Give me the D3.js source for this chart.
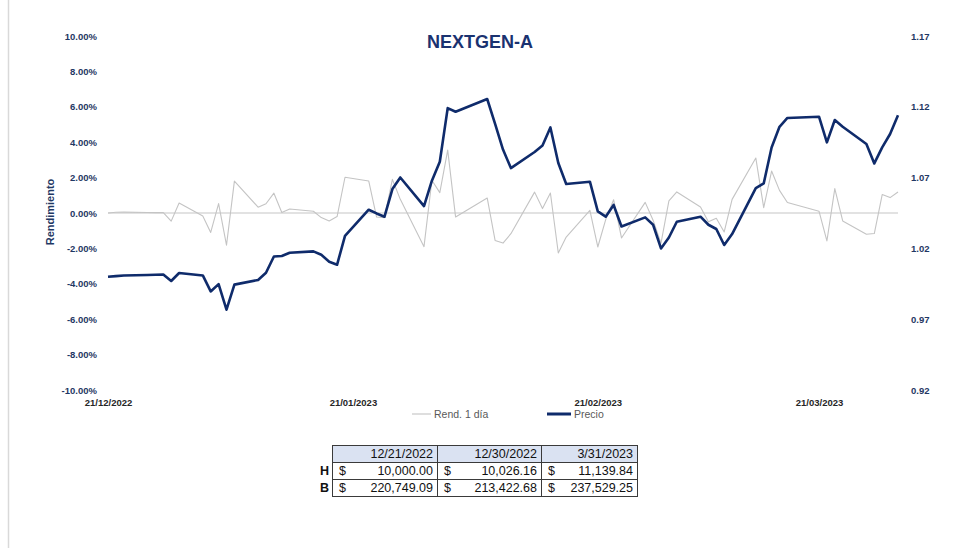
<!DOCTYPE html>
<html>
<head>
<meta charset="utf-8">
<script src="https://cdn.jsdelivr.net/npm/d3@7"></script>
<style>
  html, body { margin: 0; padding: 0; background: #fff; }
  svg { display: block; }
</style>
</head>
<body>
<svg id="chart" width="966" height="548"></svg>
<script>
const title = "NEXTGEN-A";
const dates = [
  "2022-12-21","2022-12-22","2022-12-23","2022-12-26","2022-12-27","2022-12-28","2022-12-29","2022-12-30",
  "2023-01-02","2023-01-03","2023-01-04","2023-01-05","2023-01-06","2023-01-09","2023-01-10","2023-01-11",
  "2023-01-12","2023-01-13","2023-01-16","2023-01-17","2023-01-18","2023-01-19","2023-01-20","2023-01-23",
  "2023-01-24","2023-01-25","2023-01-26","2023-01-27","2023-01-30","2023-01-31","2023-02-01","2023-02-02",
  "2023-02-03","2023-02-07","2023-02-08","2023-02-09","2023-02-10","2023-02-13","2023-02-14","2023-02-15",
  "2023-02-16","2023-02-17","2023-02-20","2023-02-21","2023-02-22","2023-02-23","2023-02-24","2023-02-27",
  "2023-02-28","2023-03-01","2023-03-02","2023-03-03","2023-03-06","2023-03-07","2023-03-08","2023-03-09",
  "2023-03-10","2023-03-13","2023-03-14","2023-03-15","2023-03-16","2023-03-17","2023-03-21","2023-03-22",
  "2023-03-23","2023-03-24","2023-03-27","2023-03-28","2023-03-29","2023-03-30","2023-03-31"
];
// Rend. 1 día (percent)
const rend = [
  0.00, 0.04, 0.05, 0.03, 0.02, 0.02, -0.46, 0.56,
  -0.17, -1.10, 0.53, -1.82, 1.80, 0.33, 0.52, 1.12,
  0.03, 0.23, 0.10, -0.26, -0.45, -0.20, 2.02, 1.81,
  -0.23, -0.26, 1.90, 0.77, -1.90, 1.85, 1.15, 3.55,
  -0.23, 0.85, -1.55, -1.70, -1.17, 1.18, 0.25, 1.13,
  -2.26, -1.36, 0.15, -1.92, -0.37, 0.75, -1.41, 0.60,
  -0.41, -1.70, 0.68, 1.19, 0.34, -0.50, -0.30, -1.07,
  0.77, 3.11, 0.30, 2.37, 1.28, 0.59, 0.10, -1.58,
  1.38, -0.45, -1.20, -1.16, 1.04, 0.87, 1.19
];
// Precio
const precio = [
  1.0000, 1.0004, 1.0009, 1.0012, 1.0014, 1.0016, 0.9970, 1.0026,
  1.0009, 0.9896, 0.9948, 0.9767, 0.9944, 0.9977, 1.0028, 1.0143,
  1.0146, 1.0169, 1.0179, 1.0155, 1.0106, 1.0085, 1.0289, 1.0473,
  1.0447, 1.0424, 1.0619, 1.0701, 1.0499, 1.0678, 1.0812, 1.1191,
  1.1165, 1.1255, 1.1079, 1.0898, 1.0767, 1.0881, 1.0927, 1.1054,
  1.0803, 1.0655, 1.0671, 1.0462, 1.0424, 1.0507, 1.0355, 1.0419,
  1.0367, 1.0200, 1.0277, 1.0388, 1.0424, 1.0367, 1.0337, 1.0224,
  1.0301, 1.0626, 1.0659, 1.0913, 1.1059, 1.1121, 1.1130, 1.0949,
  1.1107, 1.1059, 1.0937, 1.0800, 1.0913, 1.1008, 1.1140
];
const leftTicks = [-10, -8, -6, -4, -2, 0, 2, 4, 6, 8, 10];
const rightTicks = [0.92, 0.97, 1.02, 1.07, 1.12, 1.17];
const xTickDates = ["2022-12-21", "2023-01-21", "2023-02-21", "2023-03-21"];
const seriesNames = ["Rend. 1 día", "Precio"];
const tableDates = ["12/21/2022", "12/30/2022", "3/31/2023"];
const rowLabels = ["H", "B"];
const rowH = [10000.00, 10026.16, 11139.84];
const rowB = [220749.09, 213422.68, 237529.25];

const parse = d3.timeParse("%Y-%m-%d");
const navy = "#0f2b6b";
const axisColor = "#1f3864";
const svg = d3.select("#chart");

// left page border line
svg.append("line").attr("x1", 8.5).attr("x2", 8.5).attr("y1", 0).attr("y2", 548)
  .attr("stroke", "#d9d9d9").attr("stroke-width", 1.5);

const x = d3.scaleTime().domain([parse("2022-12-21"), parse("2023-03-31")]).range([108, 898]);
const yL = d3.scaleLinear().domain([-10, 10]).range([390, 36]);
const yR = d3.scaleLinear().domain([0.92, 1.17]).range([390, 36]);

// title
svg.append("text").attr("x", 480).attr("y", 48).attr("text-anchor", "middle")
  .attr("font-family", "Liberation Sans, Arial, sans-serif").attr("font-weight", "bold")
  .attr("font-size", 18).attr("fill", "#1a3270").text(title);

// left axis
const gL = svg.append("g").attr("transform", "translate(97,0)")
  .call(d3.axisLeft(yL).tickValues(leftTicks).tickSize(0).tickPadding(0)
    .tickFormat(d => d3.format(".2f")(d).replace("−", "-") + "%"));
gL.select(".domain").remove();
gL.selectAll("text").attr("font-family", "Liberation Sans, Arial, sans-serif")
  .attr("font-weight", "bold").attr("font-size", 9.5).attr("fill", axisColor);

// right axis
const gR = svg.append("g").attr("transform", "translate(911,0)")
  .call(d3.axisRight(yR).tickValues(rightTicks).tickSize(0).tickPadding(0)
    .tickFormat(d3.format(".2f")));
gR.select(".domain").remove();
gR.selectAll("text").attr("font-family", "Liberation Sans, Arial, sans-serif")
  .attr("font-weight", "bold").attr("font-size", 9.5).attr("fill", axisColor);

// y title
svg.append("text").attr("transform", "translate(54,212) rotate(-90)").attr("text-anchor", "middle")
  .attr("font-family", "Liberation Sans, Arial, sans-serif").attr("font-weight", "bold")
  .attr("font-size", 11).attr("fill", axisColor).text("Rendimiento");

// x axis labels
const gX = svg.append("g").attr("transform", "translate(0,399)")
  .call(d3.axisBottom(x).tickValues(xTickDates.map(parse)).tickSize(0).tickPadding(0)
    .tickFormat(d3.timeFormat("%d/%m/%Y")));
gX.select(".domain").remove();
gX.selectAll("text").attr("font-family", "Liberation Sans Narrow, Arial Narrow, sans-serif")
  .attr("font-weight", "bold").attr("font-size", 9.5).attr("fill", "#262626");

// zero line
svg.append("line").attr("x1", x.range()[0]).attr("x2", x.range()[1])
  .attr("y1", yL(0)).attr("y2", yL(0)).attr("stroke", "#d9d9d9").attr("stroke-width", 1.5);

const data = dates.map((d, i) => ({ date: parse(d), r: rend[i], p: precio[i] }));

svg.append("path").datum(data)
  .attr("d", d3.line().x(d => x(d.date)).y(d => yL(d.r)))
  .attr("fill", "none").attr("stroke", "#c4c4c4").attr("stroke-width", 1.1)
  .attr("stroke-linejoin", "round");

svg.append("path").datum(data)
  .attr("d", d3.line().x(d => x(d.date)).y(d => yR(d.p)))
  .attr("fill", "none").attr("stroke", navy).attr("stroke-width", 2.6)
  .attr("stroke-linejoin", "round");

// legend
const leg = svg.append("g").attr("font-family", "Liberation Sans Narrow, Arial Narrow, sans-serif")
  .attr("font-size", 10.5).attr("fill", "#595959");
leg.append("line").attr("x1", 412).attr("x2", 431).attr("y1", 414).attr("y2", 414)
  .attr("stroke", "#c4c4c4").attr("stroke-width", 1.1);
leg.append("text").attr("x", 434).attr("y", 418).text(seriesNames[0]);
leg.append("line").attr("x1", 547).attr("x2", 571).attr("y1", 414).attr("y2", 414)
  .attr("stroke", navy).attr("stroke-width", 3);
leg.append("text").attr("x", 574).attr("y", 418).text(seriesNames[1]);

// table
const colX = [332, 437, 541, 637];
const rowY = [445, 462, 479, 496];
const tbl = svg.append("g").attr("font-family", "Liberation Sans, Arial, sans-serif").attr("font-size", 12.5);
tbl.append("rect").attr("x", colX[0]).attr("y", rowY[0]).attr("width", colX[3] - colX[0])
  .attr("height", rowY[1] - rowY[0]).attr("fill", "#dae2f2");
const money = d3.format(",.2f");
tableDates.forEach((t, i) => {
  tbl.append("text").attr("x", colX[i + 1] - 4).attr("y", rowY[0] + 13).attr("text-anchor", "end")
    .attr("fill", "#111").text(t);
});
[rowH, rowB].forEach((row, r) => {
  const yy = rowY[r + 1] + 13;
  tbl.append("text").attr("x", 329).attr("y", yy).attr("text-anchor", "end")
    .attr("font-weight", "bold").attr("fill", "#111").text(rowLabels[r]);
  row.forEach((v, i) => {
    tbl.append("text").attr("x", colX[i] + 7).attr("y", yy).attr("fill", "#111").text("$");
    tbl.append("text").attr("x", colX[i + 1] - 4).attr("y", yy).attr("text-anchor", "end")
      .attr("fill", "#111").text(money(v));
  });
});
// grid lines
rowY.forEach(yy => tbl.append("line").attr("x1", colX[0]).attr("x2", colX[3]).attr("y1", yy + 0.5).attr("y2", yy + 0.5)
  .attr("stroke", "#3a3a3a").attr("stroke-width", 1));
colX.forEach(xx => tbl.append("line").attr("x1", xx + 0.5).attr("x2", xx + 0.5).attr("y1", rowY[0]).attr("y2", rowY[3] + 1)
  .attr("stroke", "#3a3a3a").attr("stroke-width", 1));
</script>
</body>
</html>
